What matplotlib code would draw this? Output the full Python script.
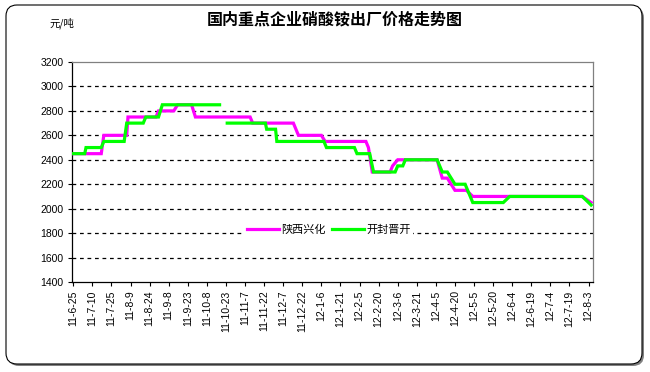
import numpy as np
import pandas as pd
import matplotlib
matplotlib.use("Agg")
import matplotlib.pyplot as plt
from matplotlib.patches import FancyBboxPatch
from matplotlib.transforms import IdentityTransform

plt.rcParams['font.family'] = ['Noto Sans CJK SC', 'DejaVu Sans']

start = pd.Timestamp("2011-06-25")

# 陕西兴化 (change points)
xh_dates = ["2011-06-25", "2011-07-17", "2011-07-19", "2011-08-06", "2011-08-07",
            "2011-08-29", "2011-08-31", "2011-09-12", "2011-09-15", "2011-09-26",
            "2011-09-29", "2011-11-11", "2011-11-13", "2011-12-15", "2011-12-19",
            "2012-01-06", "2012-01-09", "2012-02-10", "2012-02-12", "2012-02-15",
            "2012-02-29", "2012-03-02", "2012-03-06", "2012-04-06", "2012-04-10",
            "2012-04-14", "2012-04-20", "2012-04-29", "2012-05-04", "2012-07-29",
            "2012-08-05"]
xh_vals = [2450, 2450, 2600, 2600, 2750,
           2750, 2800, 2800, 2850, 2850,
           2750, 2750, 2700, 2700, 2600,
           2600, 2550, 2550, 2500, 2300,
           2300, 2350, 2400, 2400, 2250,
           2250, 2150, 2150, 2100, 2100,
           2050]

# 开封晋开 (change points, NaN = missing)
jk_dates = ["2011-06-25", "2011-07-04", "2011-07-05", "2011-07-17", "2011-07-19",
            "2011-08-04", "2011-08-06", "2011-08-19", "2011-08-21", "2011-08-31",
            "2011-09-03", "2011-10-18", "2011-10-20", "2011-10-24", "2011-11-23",
            "2011-11-24", "2011-12-01", "2011-12-02", "2012-01-08", "2012-01-10",
            "2012-02-01", "2012-02-03", "2012-02-13", "2012-02-16", "2012-03-04",
            "2012-03-06", "2012-03-10", "2012-03-12", "2012-04-06", "2012-04-10",
            "2012-04-14", "2012-04-20", "2012-04-28", "2012-05-04", "2012-05-28",
            "2012-06-02", "2012-07-29", "2012-08-05"]
jk_vals = [2450, 2450, 2500, 2500, 2550,
           2550, 2700, 2700, 2750, 2750,
           2850, 2850, np.nan, 2700, 2700,
           2650, 2650, 2550, 2550, 2500,
           2500, 2450, 2450, 2300, 2300,
           2350, 2350, 2400, 2400, 2300,
           2300, 2200, 2200, 2050, 2050,
           2100, 2100, 2030]

tick_labels = ["11-6-25", "11-7-10", "11-7-25", "11-8-9", "11-8-24", "11-9-8",
               "11-9-23", "11-10-8", "11-10-23", "11-11-7", "11-11-22", "11-12-7",
               "11-12-22", "12-1-6", "12-1-21", "12-2-5", "12-2-20", "12-3-6",
               "12-3-21", "12-4-5", "12-4-20", "12-5-5", "12-5-20", "12-6-4",
               "12-6-19", "12-7-4", "12-7-19", "12-8-3"]


def to_days(dates):
    return (pd.to_datetime(dates) - start).days.values


def label_days(labels):
    full = ["20" + s for s in labels]
    return (pd.to_datetime(full, format="%Y-%m-%d") - start).days.values


fig = plt.figure(figsize=(6.5, 3.72), dpi=100)

# rounded chart border with shadow (pixel coords)
shadow = FancyBboxPatch((8, 6), 636, 359, boxstyle="round,pad=0,rounding_size=11",
                        transform=IdentityTransform(), facecolor="#808080",
                        edgecolor="none", zorder=-3)
border = FancyBboxPatch((6, 8), 636, 359, boxstyle="round,pad=0,rounding_size=11",
                        transform=IdentityTransform(), facecolor="white",
                        edgecolor="black", linewidth=0.8, zorder=-2)
fig.add_artist(shadow)
fig.add_artist(border)

ax = fig.add_axes([72 / 650, 1 - 282 / 372, 521 / 650, 220 / 372])
ax.set_zorder(2)
ax.set_facecolor("none")

ax.plot(to_days(xh_dates), xh_vals, color="#FF00FF", lw=2.3, label="陕西兴化",
        solid_joinstyle="miter", zorder=3)
ax.plot(to_days(jk_dates), jk_vals, color="#00FF00", lw=2.3, label="开封晋开",
        solid_joinstyle="miter", zorder=4)

ax.set_ylim(1400, 3200)
ax.set_yticks(np.arange(1400, 3201, 200))
ax.set_xlim(-1, 408.5)
ax.set_xticks(label_days(tick_labels))
ax.set_xticklabels(tick_labels, rotation=90, fontsize=7.5, family="Liberation Sans")
for t in ax.get_yticklabels():
    t.set_family("Liberation Sans")
    t.set_fontsize(7.5)

for v in range(1600, 3200, 200):
    ax.axhline(v, color="black", lw=0.9, ls=(0, (3, 3)), zorder=1)

ax.tick_params(axis="both", direction="out", length=3, width=0.8, pad=3, colors="black")
ax.spines["top"].set_color("#808080")
ax.spines["right"].set_color("#808080")
ax.spines["left"].set_color("black")
ax.spines["bottom"].set_color("black")
for s in ax.spines.values():
    s.set_linewidth(0.9)

leg = ax.legend(loc="center", bbox_to_anchor=(0.493, 0.236), ncol=2, frameon=True,
                fontsize=8, handlelength=2.9, handletextpad=0.2, columnspacing=0.5,
                borderpad=0.2)
leg.get_frame().set_facecolor("white")
leg.get_frame().set_edgecolor("none")
leg.get_frame().set_alpha(1)
leg.set_zorder(5)

fig.text(335 / 650, 1 - 20 / 372, "国内重点企业硝酸铵出厂价格走势图", ha="center",
         va="center", fontsize=11.5, fontweight="bold")
fig.text(62 / 650, 1 - 23 / 372, "元/吨", ha="center", va="center", fontsize=7.5)

fig.savefig("out.png", dpi=100)
